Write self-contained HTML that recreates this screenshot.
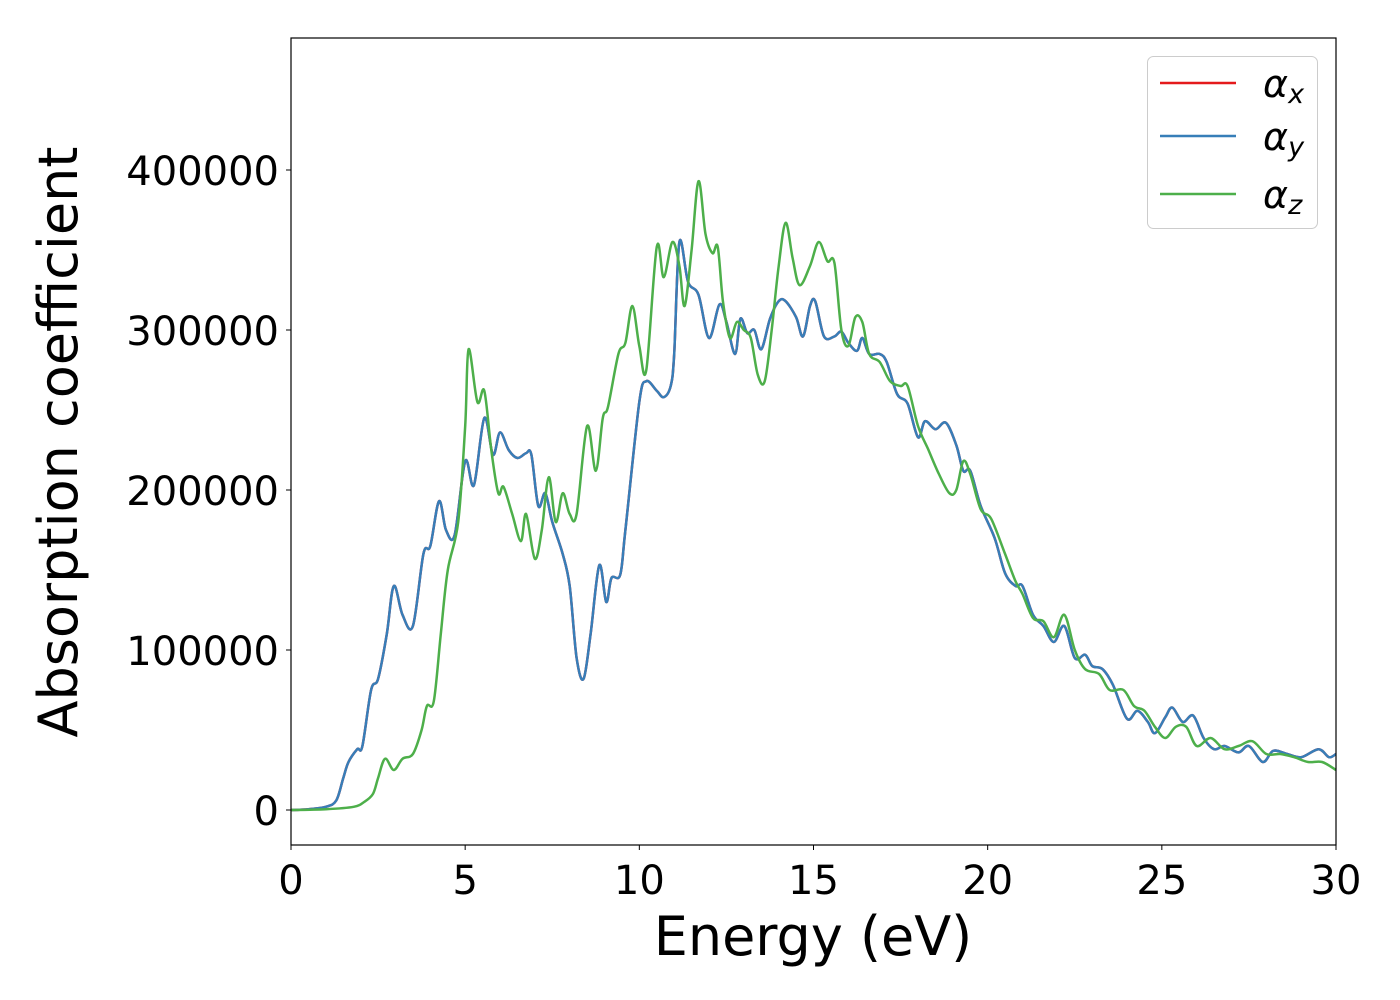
<!DOCTYPE html>
<html><head><meta charset="utf-8"><style>
body{margin:0;background:#fff;}
svg{display:block;font-family:"DejaVu Sans","Liberation Sans",sans-serif;}
</style></head><body>
<svg id="chart" width="1400" height="1000">
<rect x="0" y="0" width="1400" height="1000" fill="#fff"/>
<g id="series"></g>
<rect x="291" y="38" width="1045" height="807" fill="none" stroke="#000" stroke-width="1.2"/>
<g id="xticks"></g>
<g id="yticks"></g>
<text x="813" y="955" font-size="54" text-anchor="middle">Energy (eV)</text>
<text transform="translate(77,442) rotate(-90)" font-size="54" text-anchor="middle">Absorption coefficient</text>
<g>
<rect x="1147.5" y="56.5" width="170" height="172" rx="6" fill="#fff" fill-opacity="0.8" stroke="#ccc" stroke-width="1"/>
<line x1="1160" y1="83" x2="1236" y2="83" stroke="#e41a1c" stroke-width="2.5"/>
<text x="1263" y="97" font-size="38" font-style="italic">α<tspan font-size="27" dy="6">x</tspan></text>
<line x1="1160" y1="136" x2="1236" y2="136" stroke="#377eb8" stroke-width="2.5"/>
<text x="1263" y="150" font-size="38" font-style="italic">α<tspan font-size="27" dy="6">y</tspan></text>
<line x1="1160" y1="194" x2="1236" y2="194" stroke="#4daf4a" stroke-width="2.5"/>
<text x="1263" y="208" font-size="38" font-style="italic">α<tspan font-size="27" dy="6">z</tspan></text>
</g>
</svg>
<script>
const energyXY=[0,0.5,1,1.3,1.5,1.65,1.9,2.05,2.3,2.5,2.75,2.95,3.2,3.5,3.8,4.0,4.25,4.45,4.7,5.0,5.25,5.55,5.8,6.0,6.25,6.5,6.75,6.9,7.1,7.3,7.5,7.8,8.0,8.2,8.4,8.6,8.85,9.05,9.2,9.45,9.6,10.0,10.2,10.5,10.7,10.9,11.0,11.15,11.4,11.7,12.0,12.3,12.5,12.75,12.9,13.1,13.3,13.5,13.75,14.0,14.2,14.5,14.7,14.9,15.05,15.3,15.6,15.8,16.0,16.25,16.4,16.6,16.9,17.1,17.4,17.7,18.0,18.2,18.5,18.8,19.1,19.3,19.5,19.8,20.2,20.5,20.8,21.0,21.3,21.6,21.9,22.2,22.5,22.8,23.0,23.3,23.6,24.0,24.3,24.6,24.8,25.1,25.3,25.6,25.9,26.2,26.5,26.8,27.2,27.5,27.9,28.2,28.6,29.0,29.5,29.8,30];
const alphaXY=[0,0.5,2,6,20,30,38,40,75,82,110,140,122,115,160,165,193,175,172,218,203,245,222,236,225,220,223,222,190,198,180,160,140,95,82,110,153,130,145,147,175,255,268,262,258,265,285,355,330,322,295,316,305,285,307,298,300,288,307,318,318,308,296,315,318,296,296,299,292,287,295,285,285,280,260,254,233,243,238,242,228,212,212,190,170,148,140,140,122,115,105,115,95,97,90,88,78,57,62,55,48,58,64,55,59,45,38,40,36,40,30,37,35,33,38,33,35];
const energyZ=[0,1,1.8,2.1,2.35,2.5,2.7,2.95,3.2,3.5,3.75,3.9,4.1,4.3,4.5,4.8,5.0,5.1,5.35,5.55,5.75,5.95,6.1,6.35,6.6,6.75,7.0,7.2,7.4,7.6,7.8,8.0,8.2,8.5,8.75,8.95,9.1,9.4,9.6,9.8,10.0,10.2,10.5,10.7,10.95,11.15,11.3,11.5,11.7,11.9,12.1,12.25,12.4,12.6,12.8,13.0,13.2,13.4,13.6,13.8,14.0,14.2,14.4,14.6,14.9,15.15,15.4,15.6,15.8,16.0,16.2,16.4,16.6,16.9,17.2,17.5,17.7,18.0,18.3,18.6,18.9,19.1,19.3,19.5,19.8,20.1,20.5,20.8,21.0,21.3,21.6,21.9,22.2,22.5,22.8,23.2,23.5,23.9,24.2,24.5,24.8,25.1,25.4,25.7,26.0,26.4,26.8,27.2,27.6,28.0,28.4,28.8,29.2,29.6,30];
const alphaZ=[0,0.5,2,5,10,20,32,25,32,35,50,65,68,110,150,180,240,288,255,262,225,198,202,185,168,185,157,175,208,180,198,185,185,240,212,245,252,285,292,315,290,275,352,333,355,340,315,350,393,360,348,352,318,295,305,300,295,272,268,300,340,367,345,328,340,355,343,342,300,290,308,305,285,280,268,265,265,240,225,210,198,200,218,210,188,182,160,143,135,120,118,108,122,100,88,85,75,75,65,62,52,45,52,52,40,45,38,40,43,35,35,33,30,30,25];
const xTicks=[0,5,10,15,20,25,30];
const yTicks=[0,100000,200000,300000,400000];
const NS="http://www.w3.org/2000/svg";
function xs(e){return 291+e*(1045/30);}
function ys(v){return 810-v*0.0016;}
function pathFor(E,V){
  const p=E.map((e,i)=>[xs(e),ys(V[i]*1000)]);
  let d="M"+p[0][0].toFixed(1)+","+p[0][1].toFixed(1);
  for(let i=0;i<p.length-1;i++){
    const p0=p[Math.max(0,i-1)],p1=p[i],p2=p[i+1],p3=p[Math.min(p.length-1,i+2)];
    const c1=[p1[0]+(p2[0]-p0[0])/6,p1[1]+(p2[1]-p0[1])/6];
    const c2=[p2[0]-(p3[0]-p1[0])/6,p2[1]-(p3[1]-p1[1])/6];
    d+=" C"+c1[0].toFixed(1)+","+c1[1].toFixed(1)+" "+c2[0].toFixed(1)+","+c2[1].toFixed(1)+" "+p2[0].toFixed(1)+","+p2[1].toFixed(1);
  }
  return d;
}
const g=document.getElementById("series");
function addLine(E,V,color,name){
  const el=document.createElementNS(NS,"path");
  el.setAttribute("d",pathFor(E,V));
  el.setAttribute("fill","none");
  el.setAttribute("stroke",color);
  el.setAttribute("stroke-width","2.5");
  
  
  g.appendChild(el);
}
addLine(energyXY,alphaXY,"#e41a1c","alpha-x-line");
addLine(energyXY,alphaXY,"#377eb8","alpha-y-line");
addLine(energyZ,alphaZ,"#4daf4a","alpha-z-line");
const gx=document.getElementById("xticks");
xTicks.forEach(t=>{
  const l=document.createElementNS(NS,"line");
  l.setAttribute("x1",xs(t));l.setAttribute("x2",xs(t));l.setAttribute("y1",845);l.setAttribute("y2",850);l.setAttribute("stroke","#000");
  
  
  gx.appendChild(l);
  const tx=document.createElementNS(NS,"text");
  tx.setAttribute("x",xs(t));tx.setAttribute("y",894);tx.setAttribute("font-size","40");tx.setAttribute("text-anchor","middle");
  tx.textContent=t;
  
  
  gx.appendChild(tx);
});
const gy=document.getElementById("yticks");
yTicks.forEach(t=>{
  const l=document.createElementNS(NS,"line");
  l.setAttribute("x1",286);l.setAttribute("x2",291);l.setAttribute("y1",ys(t));l.setAttribute("y2",ys(t));l.setAttribute("stroke","#000");
  
  
  gy.appendChild(l);
  const tx=document.createElementNS(NS,"text");
  tx.setAttribute("x",279);tx.setAttribute("y",ys(t)+15);tx.setAttribute("font-size","40");tx.setAttribute("text-anchor","end");
  tx.textContent=t;
  
  
  gy.appendChild(tx);
});
</script>
</body></html>
